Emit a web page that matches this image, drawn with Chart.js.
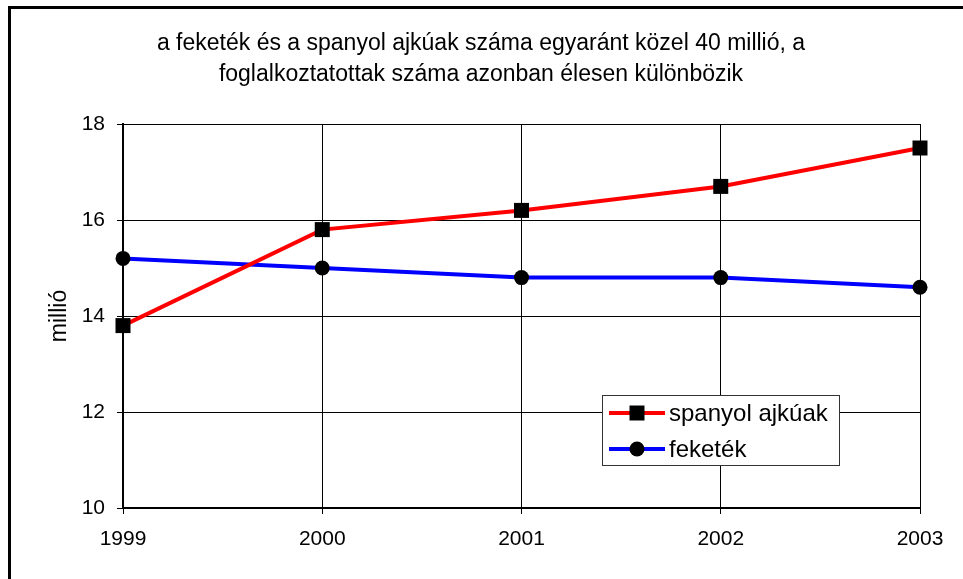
<!DOCTYPE html>
<html>
<head>
<meta charset="utf-8">
<script src="https://cdn.jsdelivr.net/npm/chart.js@4/dist/chart.umd.min.js"></script>
<style>
  html, body { margin: 0; padding: 0; background: #fff; }
  #wrap { position: relative; width: 963px; height: 579px; overflow: hidden; }
  #frame { position: absolute; left: 8px; top: 6px; width: 1000px; height: 1000px;
           border-left: 3px solid #000; border-top: 3px solid #000; box-sizing: border-box; }
  canvas { position: absolute; left: 0; top: 0; }
</style>
</head>
<body>
<div id="wrap">
  <div id="frame"></div>
  <canvas id="c" width="963" height="579"></canvas>
</div>
<script>
const titleLines = ["a feketék és a spanyol ajkúak száma egyaránt közel 40 millió, a",
                    "foglalkoztatottak száma azonban élesen különbözik"];
const years = ["1999", "2000", "2001", "2002", "2003"];
const spanyol = [13.8, 15.8, 16.2, 16.7, 17.5];
const feketek = [15.2, 15.0, 14.8, 14.8, 14.6];
const seriesNames = ["spanyol ajkúak", "feketék"];
const yTitle = "millió";

const FONT = "'Liberation Sans', Arial, sans-serif";

const titlePlugin = {
  id: 'titleDraw',
  afterDraw(chart) {
    const ctx = chart.ctx;
    ctx.save();
    ctx.fillStyle = '#000';
    ctx.font = "23px " + FONT;
    ctx.textAlign = 'center';
    ctx.textBaseline = 'middle';
    ctx.fillText(titleLines[0], 481, 44);
    ctx.fillText(titleLines[1], 481, 75);
    ctx.restore();
  }
};

const legendPlugin = {
  id: 'innerLegend',
  afterDatasetsDraw(chart) {
    const ctx = chart.ctx;
    const bx = 602.5, by = 395.5, bw = 237, bh = 70;
    ctx.save();
    ctx.fillStyle = '#fff';
    ctx.fillRect(bx, by, bw, bh);
    ctx.strokeStyle = '#333';
    ctx.lineWidth = 1;
    ctx.strokeRect(bx, by, bw, bh);
    chart.data.datasets.forEach((ds, i) => {
      const y = 413 + i * 36;
      ctx.strokeStyle = ds.borderColor;
      ctx.lineWidth = 4;
      ctx.beginPath();
      ctx.moveTo(609, y);
      ctx.lineTo(665, y);
      ctx.stroke();
      ctx.fillStyle = '#000';
      ctx.beginPath();
      if (ds.pointStyle === 'rect') {
        ctx.rect(637 - 7.5, y - 7.5, 15, 15);
      } else {
        ctx.arc(637, y, 7.5, 0, Math.PI * 2);
      }
      ctx.fill();
      ctx.fillStyle = '#000';
      ctx.font = "24px " + FONT;
      ctx.textAlign = 'left';
      ctx.textBaseline = 'middle';
      ctx.fillText(ds.label, 669, y + 1);
    });
    ctx.restore();
  }
};

new Chart(document.getElementById('c'), {
  type: 'line',
  data: {
    labels: years,
    datasets: [
      {
        label: seriesNames[0], data: spanyol,
        borderColor: '#ff0000', borderWidth: 4,
        pointStyle: 'rect', pointRadius: 10.6, pointHoverRadius: 10.6,
        pointBackgroundColor: '#000', pointBorderColor: '#000', pointBorderWidth: 0,
        tension: 0, clip: false
      },
      {
        label: seriesNames[1], data: feketek,
        borderColor: '#0000ff', borderWidth: 4,
        pointStyle: 'circle', pointRadius: 7.5, pointHoverRadius: 7.5,
        pointBackgroundColor: '#000', pointBorderColor: '#000', pointBorderWidth: 0,
        tension: 0, clip: false
      }
    ]
  },
  options: {
    responsive: false,
    animation: false,
    events: [],
    layout: { padding: { left: 0, right: 43, top: 124, bottom: 0 } },
    plugins: {
      legend: { display: false },
      title: { display: false },
      tooltip: { enabled: false }
    },
    scales: {
      x: {
        type: 'category',
        offset: false,
        grid: { color: '#000', lineWidth: 1, tickLength: 6, tickColor: '#000' },
        border: { color: '#000', width: 2 },
        ticks: { color: '#000', font: { family: FONT, size: 21 }, padding: 13, maxRotation: 0, autoSkip: false },
        afterFit(s) { s.height = 71; }
      },
      y: {
        min: 10, max: 18,
        grid: { color: '#000', lineWidth: 1, tickLength: 6, tickColor: '#000' },
        border: { color: '#000', width: 2 },
        ticks: { stepSize: 2, color: '#000', font: { family: FONT, size: 21 }, padding: 12 },
        title: { display: true, text: yTitle, color: '#000', font: { family: FONT, size: 23 }, padding: { top: 46, bottom: 0 } },
        afterFit(s) { s.width = 123; }
      }
    }
  },
  plugins: [titlePlugin, legendPlugin]
});
</script>
</body>
</html>
